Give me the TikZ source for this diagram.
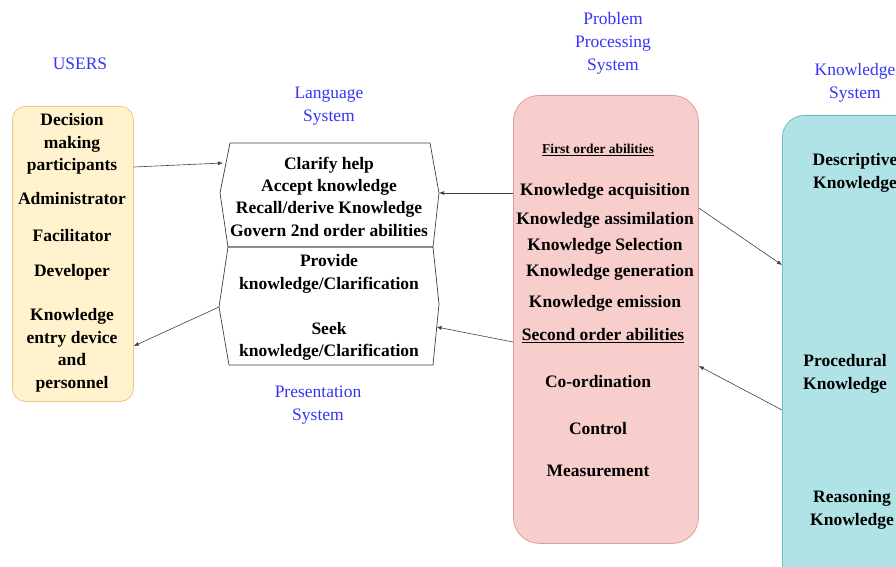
\documentclass[tikz,border=0pt]{standalone}
\usepackage{fontspec}
\setmainfont{Liberation Serif}[BoldFont={Liberation Serif Bold}]
\usetikzlibrary{arrows.meta,calc}
\definecolor{labelblue}{HTML}{3535F5}
\definecolor{userfill}{HTML}{FFF2CC}
\definecolor{userline}{HTML}{E6C987}
\definecolor{procfill}{HTML}{F8CECC}
\definecolor{procline}{HTML}{E09C9A}
\definecolor{knowfill}{HTML}{B0E3E6}
\definecolor{knowline}{HTML}{6FBFC5}
\tikzset{
  syslabel/.style={text=labelblue, font=\fontsize{17.5}{23}\selectfont, align=center, inner sep=0pt},
  item/.style={text=black, font=\bfseries\fontsize{17.5}{22.5}\selectfont, align=center, inner sep=0pt},
  subhead/.style={text=black, font=\bfseries\fontsize{13.5}{16}\selectfont, inner sep=0pt},
  panel/.style={anchor=north west, inner sep=0pt, line width=0.8pt},
  hexline/.style={draw=black!75, line width=0.7pt},
  conn/.style={draw=black!75, line width=0.6pt, -{Latex[length=5pt,width=4pt]}}
}
\begin{document}
\begin{tikzpicture}[x=1pt,y=-1pt]
\useasboundingbox (0,0) rectangle (896,567);
\clip (0,0) rectangle (896,567);
\fill[white] (0,0) rectangle (896,567);

% ---- panels ----
\node[panel, draw=userline, fill=userfill, rounded corners=13pt,
      minimum width=121pt, minimum height=295pt] (users) at (12,106) {};
\node[panel, draw=procline, fill=procfill, rounded corners=26pt,
      minimum width=185pt, minimum height=448pt] (proc) at (513,95) {};
\node[panel, draw=knowline, fill=knowfill, rounded corners=22pt,
      minimum width=160pt, minimum height=480pt] (know) at (782,115) {};

% ---- language / presentation system hexagons ----
\coordinate (lTL) at (230,143);
\coordinate (lTR) at (430,143);
\coordinate (lR)  at (439,193);
\coordinate (mR)  at (433,247);
\coordinate (mL)  at (228,247);
\coordinate (lL)  at (220,193);
\coordinate (pR)  at (439,304);
\coordinate (pBR) at (433,365);
\coordinate (pBL) at (229,365);
\coordinate (pL)  at (219,307);
\draw[hexline] (lTL) -- (lTR) -- (lR) -- (mR) -- (mL) -- (lL) -- cycle;
\draw[hexline] (mL) -- (mR) -- (pR) -- (pBR) -- (pBL) -- (pL) -- cycle;

% ---- system captions ----
\node[syslabel] (usersCap) at (80,64) {USERS};
\node[syslabel] (langCap) at (329,106.5) {Language\\System};
\node[syslabel] (presCap) at (318,405.5) {Presentation\\System};
\node[syslabel] (procCap) at (613,43.5) {Problem\\Processing\\System};
\node[syslabel] (knowCap) at (855,82.5) {Knowledge\\System};

% ---- users ----
\node[item] (u1) at (72,144) {Decision\\making\\participants};
\node[item] (u2) at (72,199) {Administrator};
\node[item] (u3) at (72,236) {Facilitator};
\node[item] (u4) at (72,272) {Developer};
\node[item] (u5) at (72,350.5) {Knowledge\\entry device\\and\\personnel};

% ---- language system ----
\node[item, font=\bfseries\fontsize{17.5}{22.3}\selectfont] (l1) at (329,196.5)
  {Clarify help\\Accept knowledge\\Recall/derive Knowledge\\Govern 2nd order abilities};
% ---- presentation system ----
\node[item] (p1) at (329,274) {Provide\\knowledge/Clarification};
\node[item] (p2) at (329,341.5) {Seek\\knowledge/Clarification};

% ---- problem processing system ----
\node[subhead] (h1) at (598,150) {\underline{First order abilities}};
\node[item] (k1) at (605,191) {Knowledge acquisition};
\node[item] (k2) at (605,220) {Knowledge assimilation};
\node[item] (k3) at (605,246) {Knowledge Selection};
\node[item] (k4) at (610,272) {Knowledge generation};
\node[item] (k5) at (605,303) {Knowledge emission};
\node[item] (h2) at (603,336) {\underline{Second order abilities}};
\node[item] (s1) at (598,382) {Co-ordination};
\node[item] (s2) at (598,429) {Control};
\node[item] (s3) at (598,471) {Measurement};

% ---- knowledge system ----
\node[item] (d1) at (855,173) {Descriptive\\Knowledge};
\node[item] (d2) at (845,374) {Procedural\\Knowledge};
\node[item] (d3) at (852,510) {Reasoning\\Knowledge};

% ---- connectors ----
\draw[conn] (users.east |- 0,167) -- (223,163);
\draw[conn] (proc.west |- 0,193) -- (lR);
\draw[conn] (pL) -- (users.east |- 0,346);
\draw[conn] (proc.west |- 0,342) -- (436.5,327);
\draw[conn] (proc.east |- 0,208) -- (know.west |- 0,265);
\draw[conn] (know.west |- 0,410) -- (proc.east |- 0,366);
\end{tikzpicture}
\end{document}
